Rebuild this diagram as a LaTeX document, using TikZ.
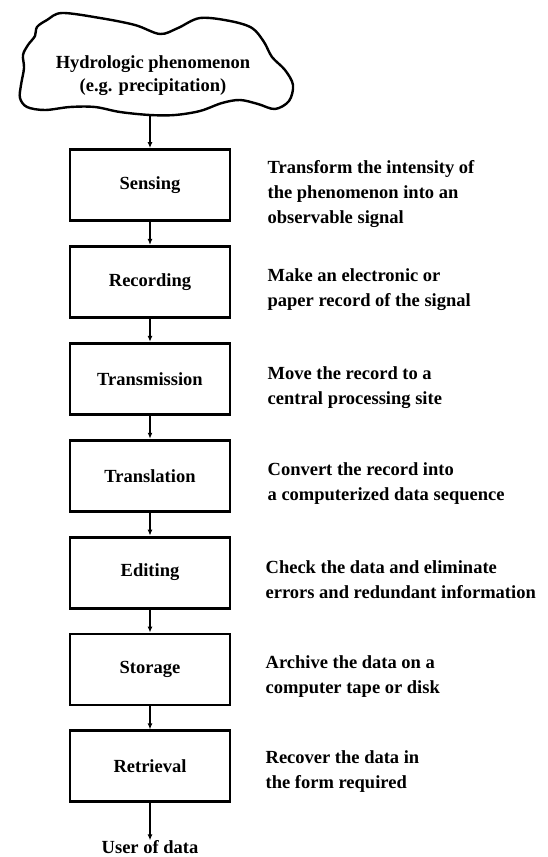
\documentclass[tikz,border=0pt]{standalone}
\usepackage{fontspec}
\setmainfont{Liberation Serif}
\usetikzlibrary{positioning,arrows.meta}

\begin{document}
\begin{tikzpicture}[x=1pt,y=-1pt,
    >={Latex[length=6pt,width=5pt]},
    every node/.style={font=\bfseries\fontsize{18.5}{25}\selectfont},
    stage/.style={draw, line width=2.9pt, minimum width=160pt, minimum height=71pt},
    note/.style={align=left, inner sep=0pt},
    flow/.style={->, line width=1.3pt}]
    \useasboundingbox (0,0) rectangle (547,857);

    % Phenomenon cloud
    \draw[line width=2.4pt] plot[smooth cycle, tension=0.55] coordinates {
        (62,13) (100,18) (135,25) (160,34) (178,28) (200,18) (230,21) (252,28)
        (264,42) (272,57) (285,70) (293,85) (289,101) (275,109) (258,104)
        (240,100) (222,103) (200,111) (175,115) (150,115) (120,112) (95,107)
        (70,107) (45,110) (27,107) (20,98) (21,85) (24,68) (23,55) (28,45)
        (35,36) (37,27) (47,20)};
    \node[align=center, font=\bfseries\fontsize{18.5}{23}\selectfont] (phen) at (153,76)
        {Hydrologic phenomenon\\(e.g. precipitation)};
    \coordinate (cloudbot) at (150,115);

    % Stages
    \node[stage] (sensing) at (150,185) {Sensing};
    \node[stage, below=23pt of sensing] (recording) {Recording};
    \node[stage, below=23pt of recording] (transmission) {Transmission};
    \node[stage, below=23pt of transmission] (translation) {Translation};
    \node[stage, below=23pt of translation] (editing) {Editing};
    \node[stage, below=23pt of editing] (storage) {Storage};
    \node[stage, below=23pt of storage] (retrieval) {Retrieval};
    \node[inner sep=0pt, below=37pt of retrieval] (user) {User of data};

    % Descriptions
    \node[note, right=36pt of sensing, yshift=-9pt] (sensingtxt)
        {Transform the intensity of\\the phenomenon into an\\observable signal};
    \node[note, right=36pt of recording, yshift=-8pt] (recordingtxt)
        {Make an electronic or\\paper record of the signal};
    \node[note, right=36pt of transmission, yshift=-9pt] (transmissiontxt)
        {Move the record to a\\central processing site};
    \node[note, right=36pt of translation, yshift=-8pt] (translationtxt)
        {Convert the record into\\a computerized data sequence};
    \node[note, right=34pt of editing, yshift=-7pt] (editingtxt)
        {Check the data and eliminate\\errors and redundant information};
    \node[note, right=34pt of storage, yshift=-7pt] (storagetxt)
        {Archive the data on a\\computer tape or disk};
    \node[note, right=34pt of retrieval, yshift=-5pt] (retrievaltxt)
        {Recover the data in\\the form required};

    % Flow
    \draw[flow] (cloudbot) -- (sensing);
    \draw[flow] (sensing) -- (recording);
    \draw[flow] (recording) -- (transmission);
    \draw[flow] (transmission) -- (translation);
    \draw[flow] (translation) -- (editing);
    \draw[flow] (editing) -- (storage);
    \draw[flow] (storage) -- (retrieval);
    \draw[flow] (retrieval) -- (user);
\end{tikzpicture}
\end{document}
